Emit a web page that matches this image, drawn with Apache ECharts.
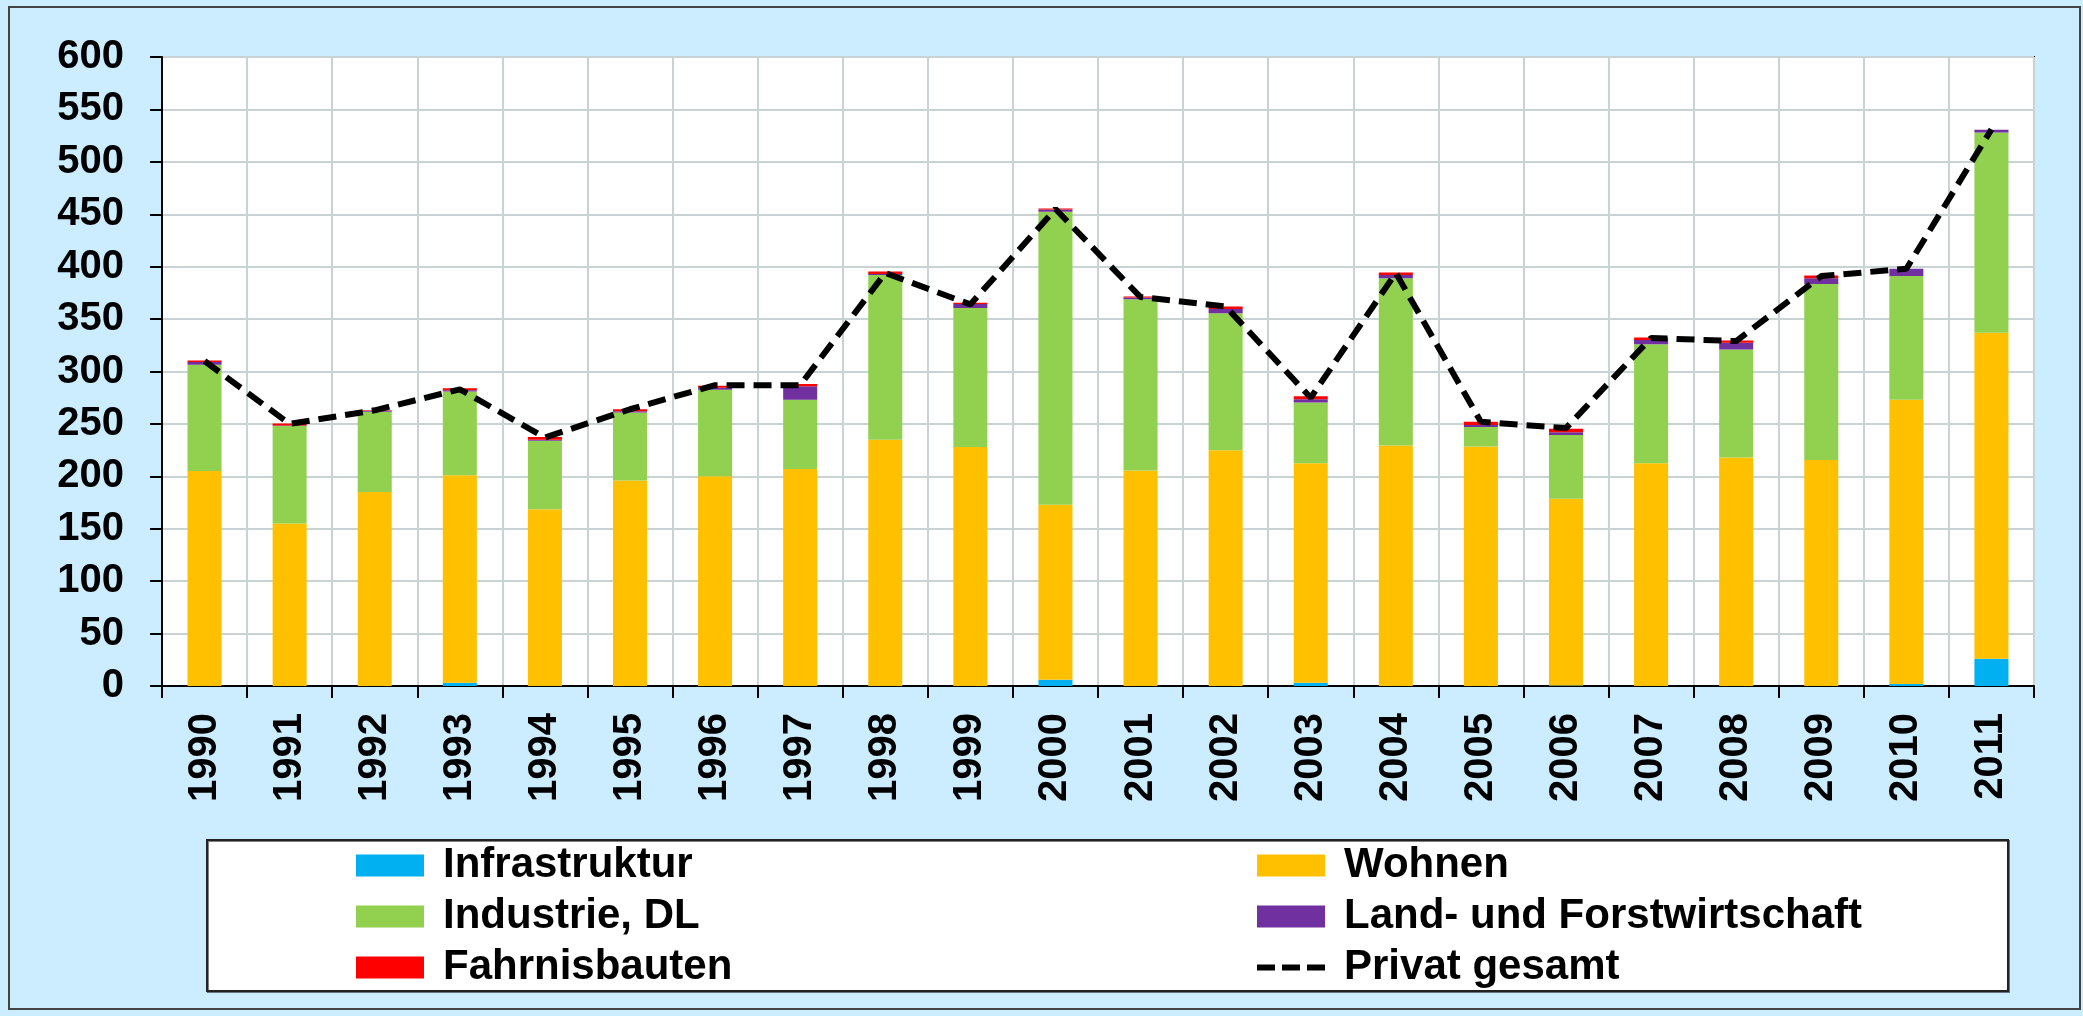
<!DOCTYPE html>
<html>
<head>
<meta charset="utf-8">
<script src="https://cdn.jsdelivr.net/npm/echarts@6/dist/echarts.min.js"></script>
<style>
  html, body { margin: 0; padding: 0; }
  #chart { width: 2083px; height: 1016px; }
</style>
</head>
<body>
<div id="chart"></div>
<script>
// Jahre
const years = ['1990', '1991', '1992', '1993', '1994', '1995', '1996', '1997', '1998', '1999', '2000',
    '2001', '2002', '2003', '2004', '2005', '2006', '2007', '2008', '2009', '2010', '2011'];

// Segmente (gestapelt, von unten nach oben)
const infrastruktur = [0, 0, 0, 3, 0, 0, 0, 0, 0, 0, 6, 0, 0, 3, 0, 0, 0.5, 0, 0, 0, 2, 26];
const wohnen = [205, 155, 185, 198, 168.5, 196, 200, 207, 235, 228, 167, 205.5, 225, 209.5, 229.5, 228.5, 178, 212.5, 218, 215.5, 271, 311];
const industrie = [101.5, 93, 76.5, 80, 65.5, 65, 82.5, 66, 157, 132.5, 279.5, 163.5, 130.5, 58, 159.5, 18.5, 61, 113.5, 103, 168, 118, 191];
const landForst = [2.5, 0.5, 1, 1, 1, 1, 2, 13, 1, 4, 2, 1.5, 4, 3, 3, 2, 2.5, 4, 6.5, 5.5, 7, 2.5];
const fahrnis = [1.5, 2, 0.5, 2, 2.5, 2, 2, 2, 2.5, 1, 1, 1, 2.5, 3, 2.5, 3, 3.5, 2.5, 2, 2.5, 0, 0];

// Linie
const privatGesamt = [310, 250, 263, 283, 237, 264, 287, 287, 394, 364, 455, 371, 362, 275, 394, 252, 246, 332, 329, 391, 398, 531];

// Achse
const yTicks = { min: 0, max: 600, interval: 50 };

const font = 'Liberation Sans, Arial, sans-serif';
const chart = echarts.init(document.getElementById('chart'));

function bar(name, data, color) {
    return {
        name: name,
        type: 'bar',
        stack: 'privat',
        data: data,
        barWidth: '40%',
        itemStyle: { color: color },
        emphasis: { disabled: true },
        animation: false
    };
}

const legendText = {
    fontFamily: font,
    fontWeight: 'bold',
    fontSize: 42,
    color: '#000',
    lineHeight: 51,
    padding: [0, 0, 0, 14]
};

// drei Striche als Legendensymbol fuer die Linie
const dashIcon = 'path://M0,0h18v6h-18z M25,0h18v6h-18z M50,0h18v6h-18z';

chart.setOption({
    backgroundColor: '#CCECFF',
    animation: false,
    grid: {
        left: 162, top: 57, right: 49, bottom: 330,
        show: true,
        backgroundColor: '#fff',
        borderColor: '#000',
        borderWidth: 2
    },
    graphic: [
        {
            type: 'rect',
            shape: { x: 9, y: 7, width: 2071, height: 1002 },
            style: { fill: 'none', stroke: '#444', lineWidth: 2 },
            silent: true
        },
        {
            type: 'rect',
            shape: { x: 207, y: 840, width: 1801, height: 151 },
            style: { fill: '#fff', stroke: '#222', lineWidth: 2, shadowColor: 'rgba(0,0,0,0.5)', shadowOffsetX: 1, shadowOffsetY: 1 },
            silent: true,
            z: 0
        }
    ],
    legend: [
        {
            orient: 'vertical',
            left: 356, top: 840,
            padding: 0,
            itemGap: 0,
            itemWidth: 68, itemHeight: 22,
            textStyle: legendText,
            data: [
                { name: 'Infrastruktur', icon: 'rect' },
                { name: 'Industrie, DL', icon: 'rect' },
                { name: 'Fahrnisbauten', icon: 'rect' }
            ],
            selectedMode: false
        },
        {
            orient: 'vertical',
            left: 1257, top: 840,
            padding: 0,
            itemGap: 0,
            itemWidth: 68, itemHeight: 22,
            textStyle: legendText,
            data: [
                { name: 'Wohnen', icon: 'rect' },
                { name: 'Land- und Forstwirtschaft', icon: 'rect' },
                { name: 'Privat gesamt', icon: dashIcon, itemStyle: { color: '#000' } }
            ],
            selectedMode: false
        }
    ],
    xAxis: {
        type: 'category',
        data: years,
        boundaryGap: true,
        axisLine: { lineStyle: { color: '#000', width: 2 } },
        axisTick: { show: true, length: 12, interval: 0, lineStyle: { color: '#000', width: 2 } },
        axisLabel: {
            rotate: 90,
            interval: 0,
            margin: 27,
            fontFamily: font,
            fontWeight: 'bold',
            fontSize: 40,
            color: '#000'
        },
        splitLine: { show: true, interval: 0, lineStyle: { color: '#C9D3D3', width: 2 } }
    },
    yAxis: {
        type: 'value',
        min: yTicks.min,
        max: yTicks.max,
        interval: yTicks.interval,
        axisLine: { show: true, lineStyle: { color: '#000', width: 2 } },
        axisTick: { show: true, length: 12, lineStyle: { color: '#000', width: 2 } },
        axisLabel: {
            margin: 38,
            fontFamily: font,
            fontWeight: 'bold',
            fontSize: 40,
            color: '#000'
        },
        splitLine: { show: true, lineStyle: { color: '#C9D3D3', width: 2 } }
    },
    series: [
        bar('Infrastruktur', infrastruktur, '#00B0F0'),
        bar('Wohnen', wohnen, '#FFC000'),
        bar('Industrie, DL', industrie, '#92D050'),
        bar('Land- und Forstwirtschaft', landForst, '#7030A0'),
        bar('Fahrnisbauten', fahrnis, '#FF0000'),
        {
            name: 'Privat gesamt',
            type: 'line',
            data: privatGesamt,
            symbol: 'none',
            z: 5,
            itemStyle: { color: '#000' },
            lineStyle: { color: '#000', width: 6, type: [18, 9] },
            emphasis: { disabled: true },
            animation: false
        }
    ]
});
</script>
</body>
</html>
